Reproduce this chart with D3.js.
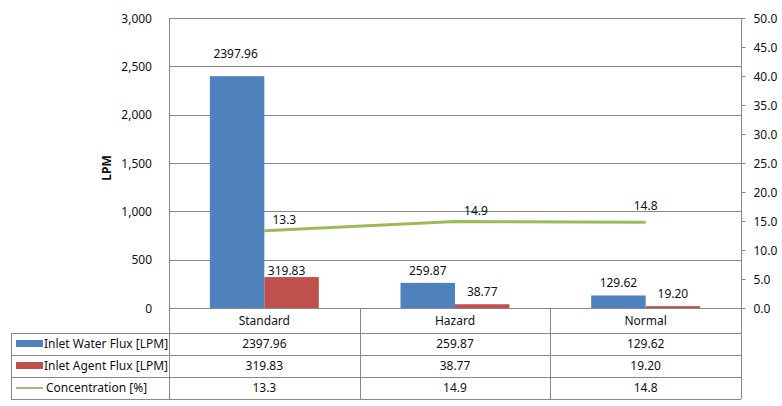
<!DOCTYPE html>
<meta charset="utf-8">
<style>
	body { margin: 0; background: #fff; }
	svg text { font-family: "Noto Sans", "Open Sans", sans-serif; font-size: 12px; fill: #111; }
</style>
<div id="vis-chart"></div>
<script src="https://cdn.jsdelivr.net/npm/d3@7"></script>
<script>
	// data
	const categories = ['Standard', 'Hazard', 'Normal']
	const waterFlux = [2397.96, 259.87, 129.62]
	const agentFlux = [319.83, 38.77, 19.20]
	const concentration = [13.3, 14.9, 14.8]
	const seriesNames = ['Inlet Water Flux [LPM]', 'Inlet Agent Flux [LPM]', 'Concentration [%]']
	const leftTicks = [0, 500, 1000, 1500, 2000, 2500, 3000]
	const rightTicks = [0, 5, 10, 15, 20, 25, 30, 35, 40, 45, 50]

	const width = 782, height = 406
	const plotL = 169, plotR = 741, plotT = 18, plotB = 308
	const rowH = 22, tableLeft = 11, tableTop = 333
	const blue = '#4f81bd', red = '#c0504d', green = '#9bbb59', grid = '#878787'

	const svg = d3.select('#vis-chart').append('svg')
		.attr('width', width)
		.attr('height', height)

	const x = d3.scaleBand().domain(categories).range([plotL, plotR]).padding(0)
	const y = d3.scaleLinear().domain([0, 3000]).range([plotB, plotT])
	const y2 = d3.scaleLinear().domain([0, 50]).range([plotB, plotT])

	const bw = x.bandwidth() / 3.5
	const gap = x.bandwidth() * 0.75 / 3.5

	// gridlines
	svg.append('g').selectAll('line').data(leftTicks.slice(1))
		.enter().append('line')
		.attr('x1', plotL).attr('x2', plotR)
		.attr('y1', d => Math.round(y(d)) + 0.5).attr('y2', d => Math.round(y(d)) + 0.5)
		.attr('stroke', grid)

	// left axis
	const gL = svg.append('g').attr('transform', `translate(${plotL - 14},0)`)
		.call(d3.axisLeft(y).tickValues(leftTicks).tickFormat(d3.format(',')).tickSize(0))
	gL.select('.domain').remove()
	gL.selectAll('text').attr('dy', '0.35em')

	// right axis
	const gR = svg.append('g').attr('transform', `translate(${plotR + 0.5},0)`)
		.call(d3.axisRight(y2).tickValues(rightTicks).tickFormat(d3.format('.1f')).tickSize(4).tickPadding(8))
	gR.select('.domain').remove()
	gR.selectAll('line').attr('stroke', grid)
	gR.selectAll('text').attr('dy', '0.35em')

	svg.append('text')
		.attr('transform', 'translate(111,168) rotate(-90)')
		.attr('text-anchor', 'middle')
		.style('font-weight', 'bold')
		.text('LPM')

	// bars
	const bars = [waterFlux, agentFlux]
	const colors = [blue, red]
	// label nudges (a few labels were moved by hand in the original)
	const barLabelNudge = [[[-1.5, -18], [0, -8], [0, -8]], [[-5, -2], [0, -8], [0, -8]]]
	bars.forEach((vals, s) => {
		const g = svg.append('g')
		g.selectAll('rect').data(vals).enter().append('rect')
			.attr('x', (d, i) => x(categories[i]) + gap + s * bw)
			.attr('y', d => y(d))
			.attr('width', bw)
			.attr('height', d => y(0) - y(d))
			.attr('fill', colors[s])
		g.selectAll('text').data(vals).enter().append('text')
			.attr('x', (d, i) => x(categories[i]) + gap + s * bw + bw / 2 + barLabelNudge[s][i][0])
			.attr('y', (d, i) => y(d) + barLabelNudge[s][i][1])
			.attr('text-anchor', 'middle')
			.text(d => d.toFixed(2))
	})

	// concentration line
	const cx = (d, i) => x(categories[i]) + x.bandwidth() / 2
	svg.append('path')
		.datum(concentration)
		.attr('d', d3.line().x(cx).y(d => y2(d)))
		.attr('fill', 'none')
		.attr('stroke', green)
		.attr('stroke-width', 3)
	const lineLabelNudge = [[20, -7], [21, -7], [0, -12]]
	svg.append('g').selectAll('text').data(concentration).enter().append('text')
		.attr('x', (d, i) => cx(d, i) + lineLabelNudge[i][0])
		.attr('y', (d, i) => y2(d) + lineLabelNudge[i][1])
		.attr('text-anchor', 'middle')
		.text(d => d.toFixed(1))

	// data table
	const t = svg.append('g').attr('fill', 'none').attr('stroke', grid)
	const hline = (x1, x2, yy) => t.append('line').attr('x1', x1).attr('x2', x2).attr('y1', yy + 0.5).attr('y2', yy + 0.5)
	const vline = (xx, y1, y2_) => t.append('line').attr('x1', Math.round(xx) + 0.5).attr('x2', Math.round(xx) + 0.5).attr('y1', y1).attr('y2', y2_)
	hline(plotL, plotR, plotB)
	for (let r = 0; r <= 3; r++) hline(tableLeft, plotR, tableTop + r * rowH)
	vline(tableLeft, tableTop, tableTop + 3 * rowH)
	vline(plotL, plotT, tableTop + 3 * rowH)
	vline(plotR, plotT, tableTop + 3 * rowH)
	categories.slice(1).forEach(c => vline(x(c), plotB, tableTop + 3 * rowH))

	svg.append('g').selectAll('text').data(categories).enter().append('text')
		.attr('x', d => x(d) + x.bandwidth() / 2)
		.attr('y', (plotB + tableTop) / 2)
		.attr('dy', '0.35em')
		.attr('text-anchor', 'middle')
		.text(d => d)

	const rows = [waterFlux.map(d => d.toFixed(2)), agentFlux.map(d => d.toFixed(2)), concentration.map(d => d.toFixed(1))]
	rows.forEach((vals, r) => {
		const yy = tableTop + r * rowH + rowH / 2
		svg.append('g').selectAll('text').data(vals).enter().append('text')
			.attr('x', (d, i) => x(categories[i]) + x.bandwidth() / 2)
			.attr('y', yy)
			.attr('dy', '0.35em')
			.attr('text-anchor', 'middle')
			.text(d => d)
		if (r < 2) {
			svg.append('rect').attr('x', 16).attr('y', yy - 4).attr('width', 27).attr('height', 7).attr('fill', colors[r])
		} else {
			svg.append('line').attr('x1', 16).attr('x2', 43).attr('y1', yy).attr('y2', yy)
				.attr('stroke', '#a9b87a').attr('stroke-width', 2)
		}
		svg.append('text')
			.attr('x', r < 2 ? 44 : 46)
			.attr('y', yy)
			.attr('dy', '0.35em')
			.text(seriesNames[r])
	})
</script>
